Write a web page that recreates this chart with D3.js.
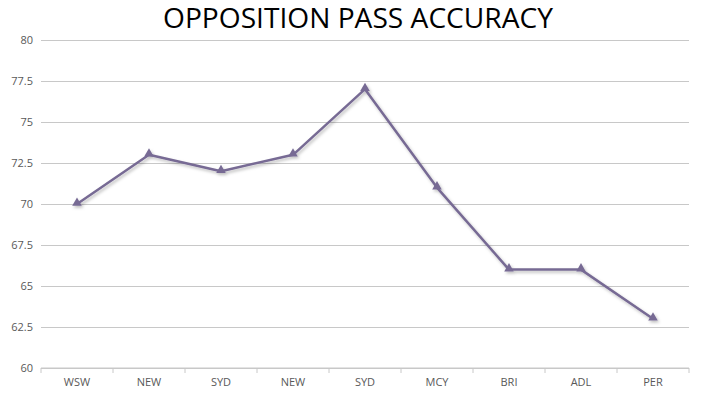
<!DOCTYPE html>
<html>
<head>
<meta charset="utf-8">
<script src="https://cdn.jsdelivr.net/npm/d3@7"></script>
<style>
  body { margin: 0; background: #fff; }
  svg text { font-family: "Open Sans", "Noto Sans", sans-serif; }
</style>
</head>
<body>
<svg id="chart" width="702" height="398"></svg>
<script>
// Chart data
const categories = ["WSW", "NEW", "SYD", "NEW", "SYD", "MCY", "BRI", "ADL", "PER"];
const accuracy = [70, 73, 72, 73, 77, 71, 66, 66, 63];
const yTicks = [60, 62.5, 65, 67.5, 70, 72.5, 75, 77.5, 80];

const svg = d3.select("#chart");
const margin = {top: 40, right: 13, bottom: 30, left: 41};
const width = 702 - margin.left - margin.right;
const height = 398 - margin.top - margin.bottom;

const g = svg.append("g").attr("transform", `translate(${margin.left},${margin.top})`);

// Title
svg.append("text")
  .attr("x", 358)
  .attr("y", 28)
  .attr("text-anchor", "middle")
  .attr("font-size", "27px")
  .attr("fill", "#000")
  .attr("textLength", 390)
  .attr("lengthAdjust", "spacingAndGlyphs")
  .text("OPPOSITION PASS ACCURACY");

// Scales
const x = d3.scaleBand().domain(d3.range(categories.length)).range([0, width]);
const y = d3.scaleLinear().domain([60, 80]).range([height, 0]);

// Gridlines + y labels
const yAxis = g.append("g")
  .call(d3.axisLeft(y).tickValues(yTicks).tickSize(-width).tickFormat(d3.format("")));
yAxis.select(".domain").remove();
yAxis.selectAll(".tick line").attr("stroke", "#c8c8c8");
yAxis.selectAll(".tick text")
  .attr("x", -8)
  .attr("fill", "#595959")
  .attr("font-size", "11px")
  .style("font-family", "'Open Sans', sans-serif");

// x axis with ticks at band boundaries
const xAxis = g.append("g").attr("transform", `translate(0,${height})`);
xAxis.append("line").attr("x1", 0).attr("x2", width).attr("stroke", "#c8c8c8");
xAxis.selectAll(".bt")
  .data(d3.range(categories.length + 1))
  .join("line")
  .attr("x1", i => i * x.step())
  .attr("x2", i => i * x.step())
  .attr("y1", 0).attr("y2", 5)
  .attr("stroke", "#c8c8c8");
xAxis.selectAll(".lbl")
  .data(categories)
  .join("text")
  .attr("x", (d, i) => x(i) + x.bandwidth() / 2)
  .attr("y", 18)
  .attr("text-anchor", "middle")
  .attr("fill", "#595959")
  .attr("font-size", "11px")
  .text(d => d);

// Shadow filter
const defs = svg.append("defs");
const f = defs.append("filter").attr("id", "shadow").attr("x", "-10%").attr("y", "-10%").attr("width", "120%").attr("height", "130%");
f.append("feDropShadow").attr("dx", 1.5).attr("dy", 2).attr("stdDeviation", 1.5)
  .attr("flood-color", "#000").attr("flood-opacity", 0.25);

const line = d3.line()
  .x((d, i) => x(i) + x.bandwidth() / 2)
  .y(d => y(d));

const series = g.append("g").attr("filter", "url(#shadow)");
series.append("path")
  .datum(accuracy)
  .attr("d", line)
  .attr("fill", "none")
  .attr("stroke", "#776b94")
  .attr("stroke-width", 2.5)
  .attr("stroke-linejoin", "round");

series.selectAll(".pt")
  .data(accuracy)
  .join("path")
  .attr("d", d3.symbol(d3.symbolTriangle, 40))
  .attr("transform", (d, i) => `translate(${x(i) + x.bandwidth() / 2},${y(d) - 1})`)
  .attr("fill", "#776b94");
</script>
</body>
</html>
